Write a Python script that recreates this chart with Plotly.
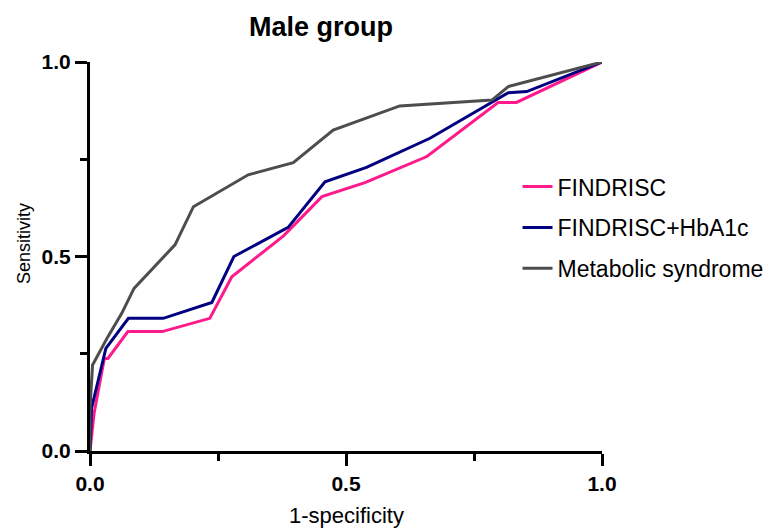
import plotly.graph_objects as go

# ---- data ----
series_names = ["FINDRISC", "FINDRISC+HbA1c", "Metabolic syndrome"]

findrisc_x = [0, 0.008, 0.028, 0.035, 0.074, 0.141, 0.234, 0.277, 0.378, 0.453, 0.537, 0.658, 0.797, 0.833, 1.0]
findrisc_y = [0, 0.097, 0.238, 0.238, 0.307, 0.307, 0.341, 0.448, 0.553, 0.654, 0.690, 0.757, 0.896, 0.896, 1.0]

hba1c_x = [0, 0.003, 0.031, 0.075, 0.143, 0.238, 0.281, 0.387, 0.459, 0.540, 0.664, 0.817, 0.853, 1.0]
hba1c_y = [0, 0.110, 0.264, 0.341, 0.341, 0.382, 0.500, 0.575, 0.692, 0.729, 0.804, 0.921, 0.924, 1.0]

mets_x = [0, 0, 0.005, 0.035, 0.062, 0.086, 0.166, 0.202, 0.309, 0.397, 0.475, 0.605, 0.785, 0.817, 1.0]
mets_y = [0, 0.110, 0.221, 0.294, 0.354, 0.418, 0.530, 0.628, 0.710, 0.741, 0.825, 0.887, 0.902, 0.937, 1.0]

tick_vals = [0, 0.5, 1.0]
tick_text = ["0.0", "0.5", "1.0"]

colors = ["#FF1A8C", "#000080", "#4D4D4D"]

FONT = "Liberation Sans, Arial, sans-serif"

fig = go.Figure()
for i, (xs, ys) in enumerate([(findrisc_x, findrisc_y), (hba1c_x, hba1c_y), (mets_x, mets_y)]):
    fig.add_trace(go.Scatter(
        x=xs, y=ys, mode="lines", name=series_names[i],
        legendgroup=f"g{i}",
        line=dict(color=colors[i], width=3),
    ))

axis_common = dict(
    range=[0, 1],
    tickvals=tick_vals, ticktext=tick_text,
    ticks="outside", ticklen=12, tickwidth=3, tickcolor="black",
    showline=True, linewidth=3, linecolor="black",
    showgrid=False, zeroline=False,
    tickfont=dict(family=FONT, size=21, color="black", weight="bold"),
    minor=dict(dtick=0.25, tick0=0, ticks="outside", ticklen=7, tickwidth=3, tickcolor="black", showgrid=False),
    layer="below traces",
)

fig.update_layout(
    width=772, height=529,
    margin=dict(l=90, r=170, t=62, b=78, autoexpand=False),
    paper_bgcolor="white", plot_bgcolor="white",
    xaxis=dict(**axis_common),
    yaxis=dict(**axis_common),
    title=dict(text="<b>Male group</b>", x=321 / 772, xref="container", xanchor="center",
               y=1 - 27 / 529, yref="container", yanchor="middle",
               font=dict(family=FONT, size=27, color="black")),
    legend=dict(x=0.835, y=0.735, xanchor="left", yanchor="top",
                font=dict(family=FONT, size=23, color="black"),
                tracegroupgap=8, bgcolor="rgba(0,0,0,0)"),
    annotations=[
        dict(text="1-specificity", x=0.5, xref="paper", y=-0.165, yref="paper",
             xanchor="center", yanchor="middle", showarrow=False,
             font=dict(family=FONT, size=22, color="black")),
        dict(text="Sensitivity", x=-0.13, xref="paper", y=0.533, yref="paper",
             xanchor="center", yanchor="middle", textangle=-90, showarrow=False,
             font=dict(family=FONT, size=18, color="black")),
    ],
)

fig.write_html("out.html")
